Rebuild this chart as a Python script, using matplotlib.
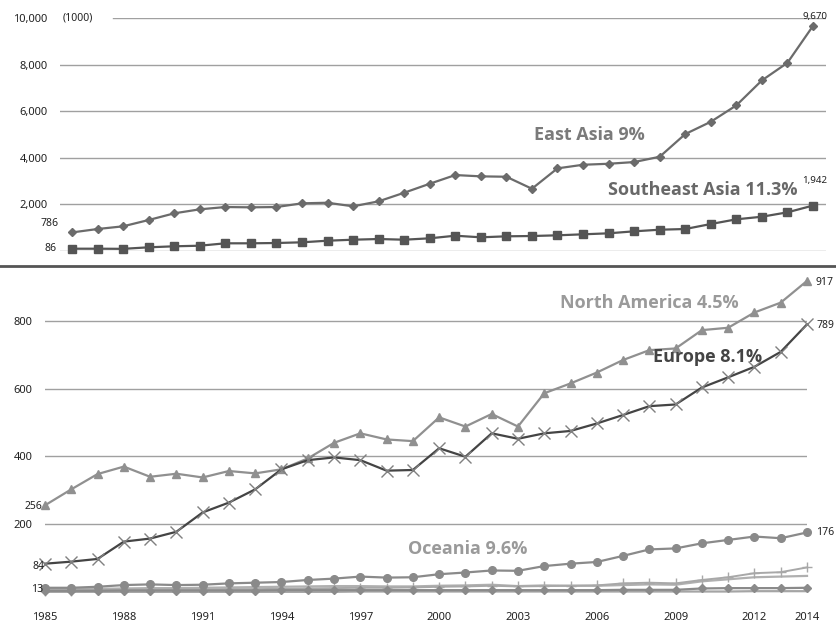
import matplotlib.pyplot as plt
from matplotlib.lines import Line2D

plt.rcParams['font.family'] = ['Noto Sans', 'DejaVu Sans']

# ─── DATA (1000 tourists) ─────────────────────────
years = list(range(1985, 2015))

east_asia = [786, 933, 1049, 1320, 1608, 1780, 1879, 1866, 1879, 2038,
             2064, 1909, 2124, 2494, 2881, 3255, 3199, 3182, 2666, 3543,
             3698, 3741, 3814, 4042, 5018, 5547, 6252, 7327, 8084, 9670]
southeast_asia = [86, 86, 80, 146, 189, 215, 318, 318, 331, 361,
                  430, 473, 503, 473, 533, 645, 576, 619, 632, 662,
                  705, 748, 834, 903, 933, 1148, 1350, 1462, 1651, 1942]

north_america = [256, 303, 348, 370, 340, 349, 338, 357, 350, 362,
                 394, 440, 468, 450, 445, 515, 488, 525, 488, 586,
                 615, 647, 684, 713, 718, 772, 779, 824, 853, 917]
europe = [84, 90, 98, 149, 158, 178, 235, 264, 303, 362,
          389, 397, 389, 358, 360, 424, 399, 468, 452, 468,
          475, 497, 522, 548, 553, 603, 633, 664, 708, 789]
oceania = [13, 13, 16, 21, 23, 21, 22, 26, 28, 30,
           36, 40, 46, 43, 44, 53, 58, 64, 63, 77,
           84, 89, 107, 126, 129, 144, 154, 164, 159, 176]
other_a = [5, 5, 6, 7, 7, 8, 8, 9, 9, 10, 11, 12, 13, 13, 14,
           16, 17, 19, 17, 18, 19, 20, 26, 28, 26, 36, 44, 56, 59, 73]
other_b = [9, 9, 10, 11, 12, 12, 13, 14, 15, 16, 17, 18, 18, 17, 17,
           19, 20, 22, 18, 20, 19, 19, 21, 23, 22, 32, 38, 44, 46, 48]
other_c = [4, 4, 4, 5, 5, 5, 5, 5, 5, 6, 6, 6, 6, 6, 6,
           6, 6, 6, 6, 6, 6, 6, 7, 7, 7, 11, 12, 12, 12, 13]
other_d = [1, 1, 1, 1, 1, 1, 1, 1, 1, 1, 1, 1, 2, 2, 2,
           2, 2, 2, 2, 2, 2, 2, 2, 2, 2, 2, 2, 3, 3, 3]

top_ticks = [2000, 4000, 6000, 8000, 10000]
bot_ticks = [200, 400, 600, 800]
x_ticks = [1985, 1988, 1991, 1994, 1997, 2000, 2003, 2006, 2009, 2012, 2014]

W, H = 836, 624
fig = plt.figure(figsize=(W / 100, H / 100), dpi=100)

def px_axes(x0, x1, y0, y1):
    return fig.add_axes([x0 / W, 1 - y1 / H, (x1 - x0) / W, (y1 - y0) / H])

grid_c = '#a0a0a0'
tick_c = '#222222'
bold_font = ['Open Sans', 'DejaVu Sans']

# ─── TOP PANEL ───────────────────────────────────
ax1 = px_axes(60, 826, 18.3, 250.7)
ax1.set_xlim(1984.53, 2014.51)
ax1.set_ylim(0, 10000)
for v in [0] + top_ticks:
    xmin = 0.069 if v == 10000 else 0
    ax1.axhline(v, xmin=xmin, color=grid_c, lw=1, zorder=0)
ax1.plot(years, east_asia, color='#6b6b6b', lw=1.6, marker='D',
         markersize=4, clip_on=False)
ax1.plot(years, southeast_asia, color='#555555', lw=1.6, marker='s',
         markersize=5.5, clip_on=False)
ax1.set_yticks(top_ticks)
ax1.set_yticklabels([f'{v:,}' for v in top_ticks])
ax1.set_xticks([])
ax1.tick_params(axis='y', length=0, pad=9, labelsize=8, labelcolor=tick_c)
for s in ax1.spines.values():
    s.set_visible(False)
ax1.text(0.004, 10000, '(1000)', transform=ax1.get_yaxis_transform(),
         ha='left', va='center', fontsize=7.5, color=tick_c)

ax1.annotate('9,670', (2014, east_asia[-1]), xytext=(1.5, 7),
             textcoords='offset points', ha='center', va='center',
             fontsize=7, color=tick_c)
ax1.annotate('1,942', (2014, southeast_asia[-1]), xytext=(1.5, 18),
             textcoords='offset points', ha='center', va='center',
             fontsize=7, color=tick_c)
ax1.annotate('786', (1985, east_asia[0]), xytext=(-16.5, 6.3),
             textcoords='offset points', ha='center', va='center',
             fontsize=7.5, color=tick_c)
ax1.annotate('86', (1985, southeast_asia[0]), xytext=(-15.8, 0.5),
             textcoords='offset points', ha='center', va='center',
             fontsize=7.5, color=tick_c)

ax1.text(2005.25, 5000, 'East Asia 9%', ha='center', va='center',
         fontsize=13, fontweight='bold', color='#7a7a7a', family=bold_font)
ax1.text(2009.7, 2600, 'Southeast Asia 11.3%', ha='center', va='center',
         fontsize=13, fontweight='bold', color='#686868', family=bold_font)

# separator between panels
fig.add_artist(Line2D([0, 1], [1 - 266.5 / H] * 2, color='#555555', lw=2))

# ─── BOTTOM PANEL ────────────────────────────────
ax2 = px_axes(45, 807, 269.7, 592.2)
ax2.set_xlim(1985, 2014)
ax2.set_ylim(0, 950)
for v in [0] + bot_ticks:
    ax2.axhline(v, color=grid_c, lw=1, zorder=0)

ax2.plot(years, other_d, color='#a5a5a5', lw=1.6, clip_on=False)
ax2.plot(years, other_b, color='#b0b0b0', lw=1.6, clip_on=False)
ax2.plot(years, other_a, color='#a8a8a8', lw=1.4, marker='+',
         markersize=7, clip_on=False)
ax2.plot(years, other_c, color='#8a8a8a', lw=1.6, marker='D',
         markersize=4, clip_on=False)
ax2.plot(years, oceania, color='#8a8a8a', lw=1.6, marker='o',
         markersize=5.5, clip_on=False)
ax2.plot(years, north_america, color='#909090', lw=1.6, marker='^',
         markersize=6, clip_on=False)
ax2.plot(years, europe, color='#444444', lw=1.6, marker='x',
         markersize=8, markeredgecolor='#808080', clip_on=False)

ax2.set_yticks(bot_ticks)
ax2.set_xticks(x_ticks)
ax2.tick_params(axis='both', length=0, labelsize=8, labelcolor=tick_c)
ax2.tick_params(axis='y', pad=9)
ax2.tick_params(axis='x', pad=14)
for s in ax2.spines.values():
    s.set_visible(False)

lbl = dict(textcoords='offset points', va='center', fontsize=7.5,
           color=tick_c)
ax2.annotate('917', (2014, north_america[-1]), xytext=(6, -1.5),
             ha='left', **lbl)
ax2.annotate('789', (2014, europe[-1]), xytext=(6.7, -1), ha='left', **lbl)
ax2.annotate('176', (2014, oceania[-1]), xytext=(6.7, 0), ha='left', **lbl)
ax2.annotate('256', (1985, north_america[0]), xytext=(-2, -1),
             ha='right', **lbl)
ax2.annotate('84', (1985, europe[0]), xytext=(-0.7, -2), ha='right', **lbl)
ax2.annotate('13', (1985, oceania[0]), xytext=(-1.5, -1.5),
             ha='right', **lbl)

ax2.text(2008.0, 853, 'North America 4.5%', ha='center', va='center',
         fontsize=13, fontweight='bold', color='#9a9a9a', family=bold_font)
ax2.text(2010.2, 694, 'Europe 8.1%', ha='center', va='center',
         fontsize=13, fontweight='bold', color='#444444', family=bold_font)
ax2.text(2001.1, 126, 'Oceania 9.6%', ha='center', va='center',
         fontsize=13, fontweight='bold', color='#9a9a9a', family=bold_font)

plt.savefig('out.png', dpi=100)
